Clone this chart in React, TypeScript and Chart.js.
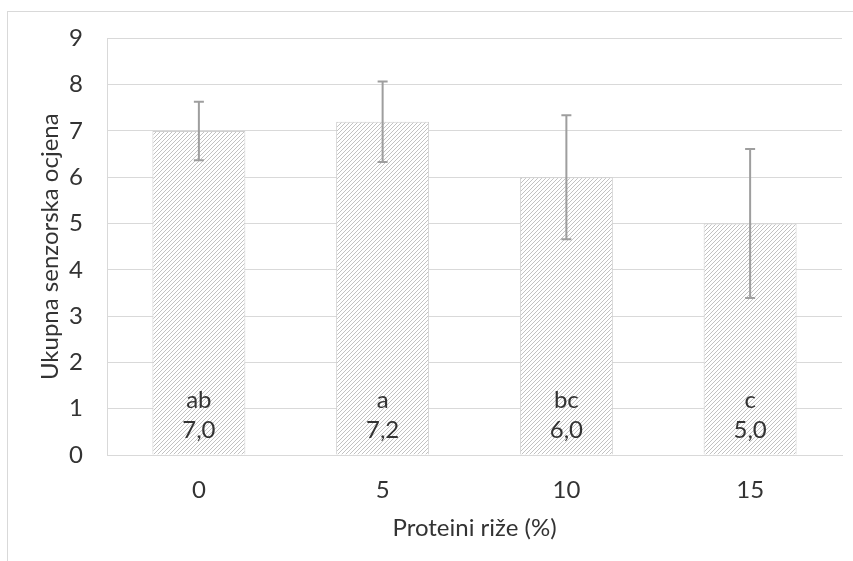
import React, { useEffect, useRef } from "react";
import { Chart, registerables } from "chart.js";

Chart.register(...registerables);

const categories = ["0", "5", "10", "15"];
const means = [7.0, 7.2, 6.0, 5.0];
const errors = [0.63, 0.87, 1.34, 1.61];
const letters = ["ab", "a", "bc", "c"];
const yMin = 0;
const yMax = 9;
const yStep = 1;
const yTitle = "Ukupna senzorska ocjena";
const xTitle = "Proteini riže (%)";

const FONT = "Lato";
const TEXT = "#333333";
const GRID = "#d9d9d9";

function makePattern(): CanvasPattern | string {
  const c = document.createElement("canvas");
  c.width = 4;
  c.height = 4;
  const g = c.getContext("2d");
  if (!g) return "#e6e6e6";
  g.fillStyle = "#ffffff";
  g.fillRect(0, 0, 4, 4);
  g.strokeStyle = "#c2c2c2";
  g.lineWidth = 1;
  g.beginPath();
  g.moveTo(-1, 5);
  g.lineTo(5, -1);
  g.moveTo(-1, 1);
  g.lineTo(1, -1);
  g.moveTo(3, 5);
  g.lineTo(5, 3);
  g.stroke();
  const p = g.createPattern(c, "repeat");
  return p || "#e6e6e6";
}

const framePlugin = {
  id: "frame",
  beforeDraw(chart: any) {
    const ctx = chart.ctx;
    ctx.save();
    ctx.fillStyle = "#ffffff";
    ctx.fillRect(0, 0, chart.width, chart.height);
    ctx.strokeStyle = GRID;
    ctx.lineWidth = 1;
    ctx.strokeRect(7.5, 11.5, chart.width + 50, chart.height + 50);
    ctx.restore();
  },
};

const extrasPlugin = {
  id: "extras",
  afterDatasetsDraw(chart: any) {
    const ctx = chart.ctx;
    const meta = chart.getDatasetMeta(0);
    const y = chart.scales.y;
    const zero = y.getPixelForValue(0);
    ctx.save();
    ctx.strokeStyle = "#9e9e9e";
    ctx.lineWidth = 2;
    meta.data.forEach((bar: any, i: number) => {
      const x = bar.x;
      const top = y.getPixelForValue(means[i] + errors[i]);
      const bot = y.getPixelForValue(means[i] - errors[i]);
      ctx.beginPath();
      ctx.moveTo(x, top);
      ctx.lineTo(x, bot);
      ctx.moveTo(x - 5, top);
      ctx.lineTo(x + 5, top);
      ctx.moveTo(x - 5, bot);
      ctx.lineTo(x + 5, bot);
      ctx.stroke();
    });
    ctx.fillStyle = TEXT;
    ctx.font = `24px ${FONT}`;
    ctx.textAlign = "center";
    ctx.textBaseline = "alphabetic";
    meta.data.forEach((bar: any, i: number) => {
      ctx.fillText(letters[i], bar.x, zero - 47);
      ctx.fillText(means[i].toFixed(1).replace(".", ","), bar.x, zero - 17);
    });
    ctx.restore();
  },
};

export default function App() {
  const ref = useRef<HTMLCanvasElement | null>(null);

  useEffect(() => {
    if (!ref.current) return;
    const pattern = makePattern();
    const chart = new Chart(ref.current, {
      type: "bar",
      data: {
        labels: categories,
        datasets: [
          {
            data: means,
            backgroundColor: pattern as any,
            borderColor: "#d0d0d0",
            borderWidth: 1,
            categoryPercentage: 0.506,
            barPercentage: 1,
          },
        ],
      },
      options: {
        animation: false,
        responsive: false,
        devicePixelRatio: 1,
        layout: { padding: { top: 38, right: 11, left: 0, bottom: 0 } },
        plugins: {
          legend: { display: false },
          tooltip: { enabled: false },
        },
        scales: {
          x: {
            grid: { display: false, drawTicks: false },
            border: { display: true, color: GRID, width: 1 },
            ticks: {
              color: TEXT,
              font: { family: FONT, size: 24 },
              padding: 21,
            },
            title: {
              display: true,
              text: xTitle,
              color: TEXT,
              font: { family: FONT, size: 24 },
              padding: { top: 0, bottom: 18 },
            },
            afterFit(scale: any) {
              scale.height = 106;
            },
          },
          y: {
            min: yMin,
            max: yMax,
            ticks: {
              stepSize: yStep,
              color: TEXT,
              font: { family: FONT, size: 24 },
              padding: 24,
            },
            grid: { color: GRID, lineWidth: 1, drawTicks: false },
            border: { display: true, color: GRID, width: 1 },
            title: {
              display: true,
              text: yTitle,
              color: TEXT,
              font: { family: FONT, size: 24 },
              padding: { top: 36, bottom: 0 },
            },
            afterFit(scale: any) {
              scale.width = 107;
            },
          },
        },
      },
      plugins: [framePlugin, extrasPlugin],
    });
    return () => chart.destroy();
  }, []);

  return (
    <div style={{ position: "fixed", left: 0, top: 0, width: 853, height: 561, background: "#fff" }}>
      <canvas ref={ref} width={853} height={561} style={{ width: 853, height: 561, display: "block" }} />
    </div>
  );
}
